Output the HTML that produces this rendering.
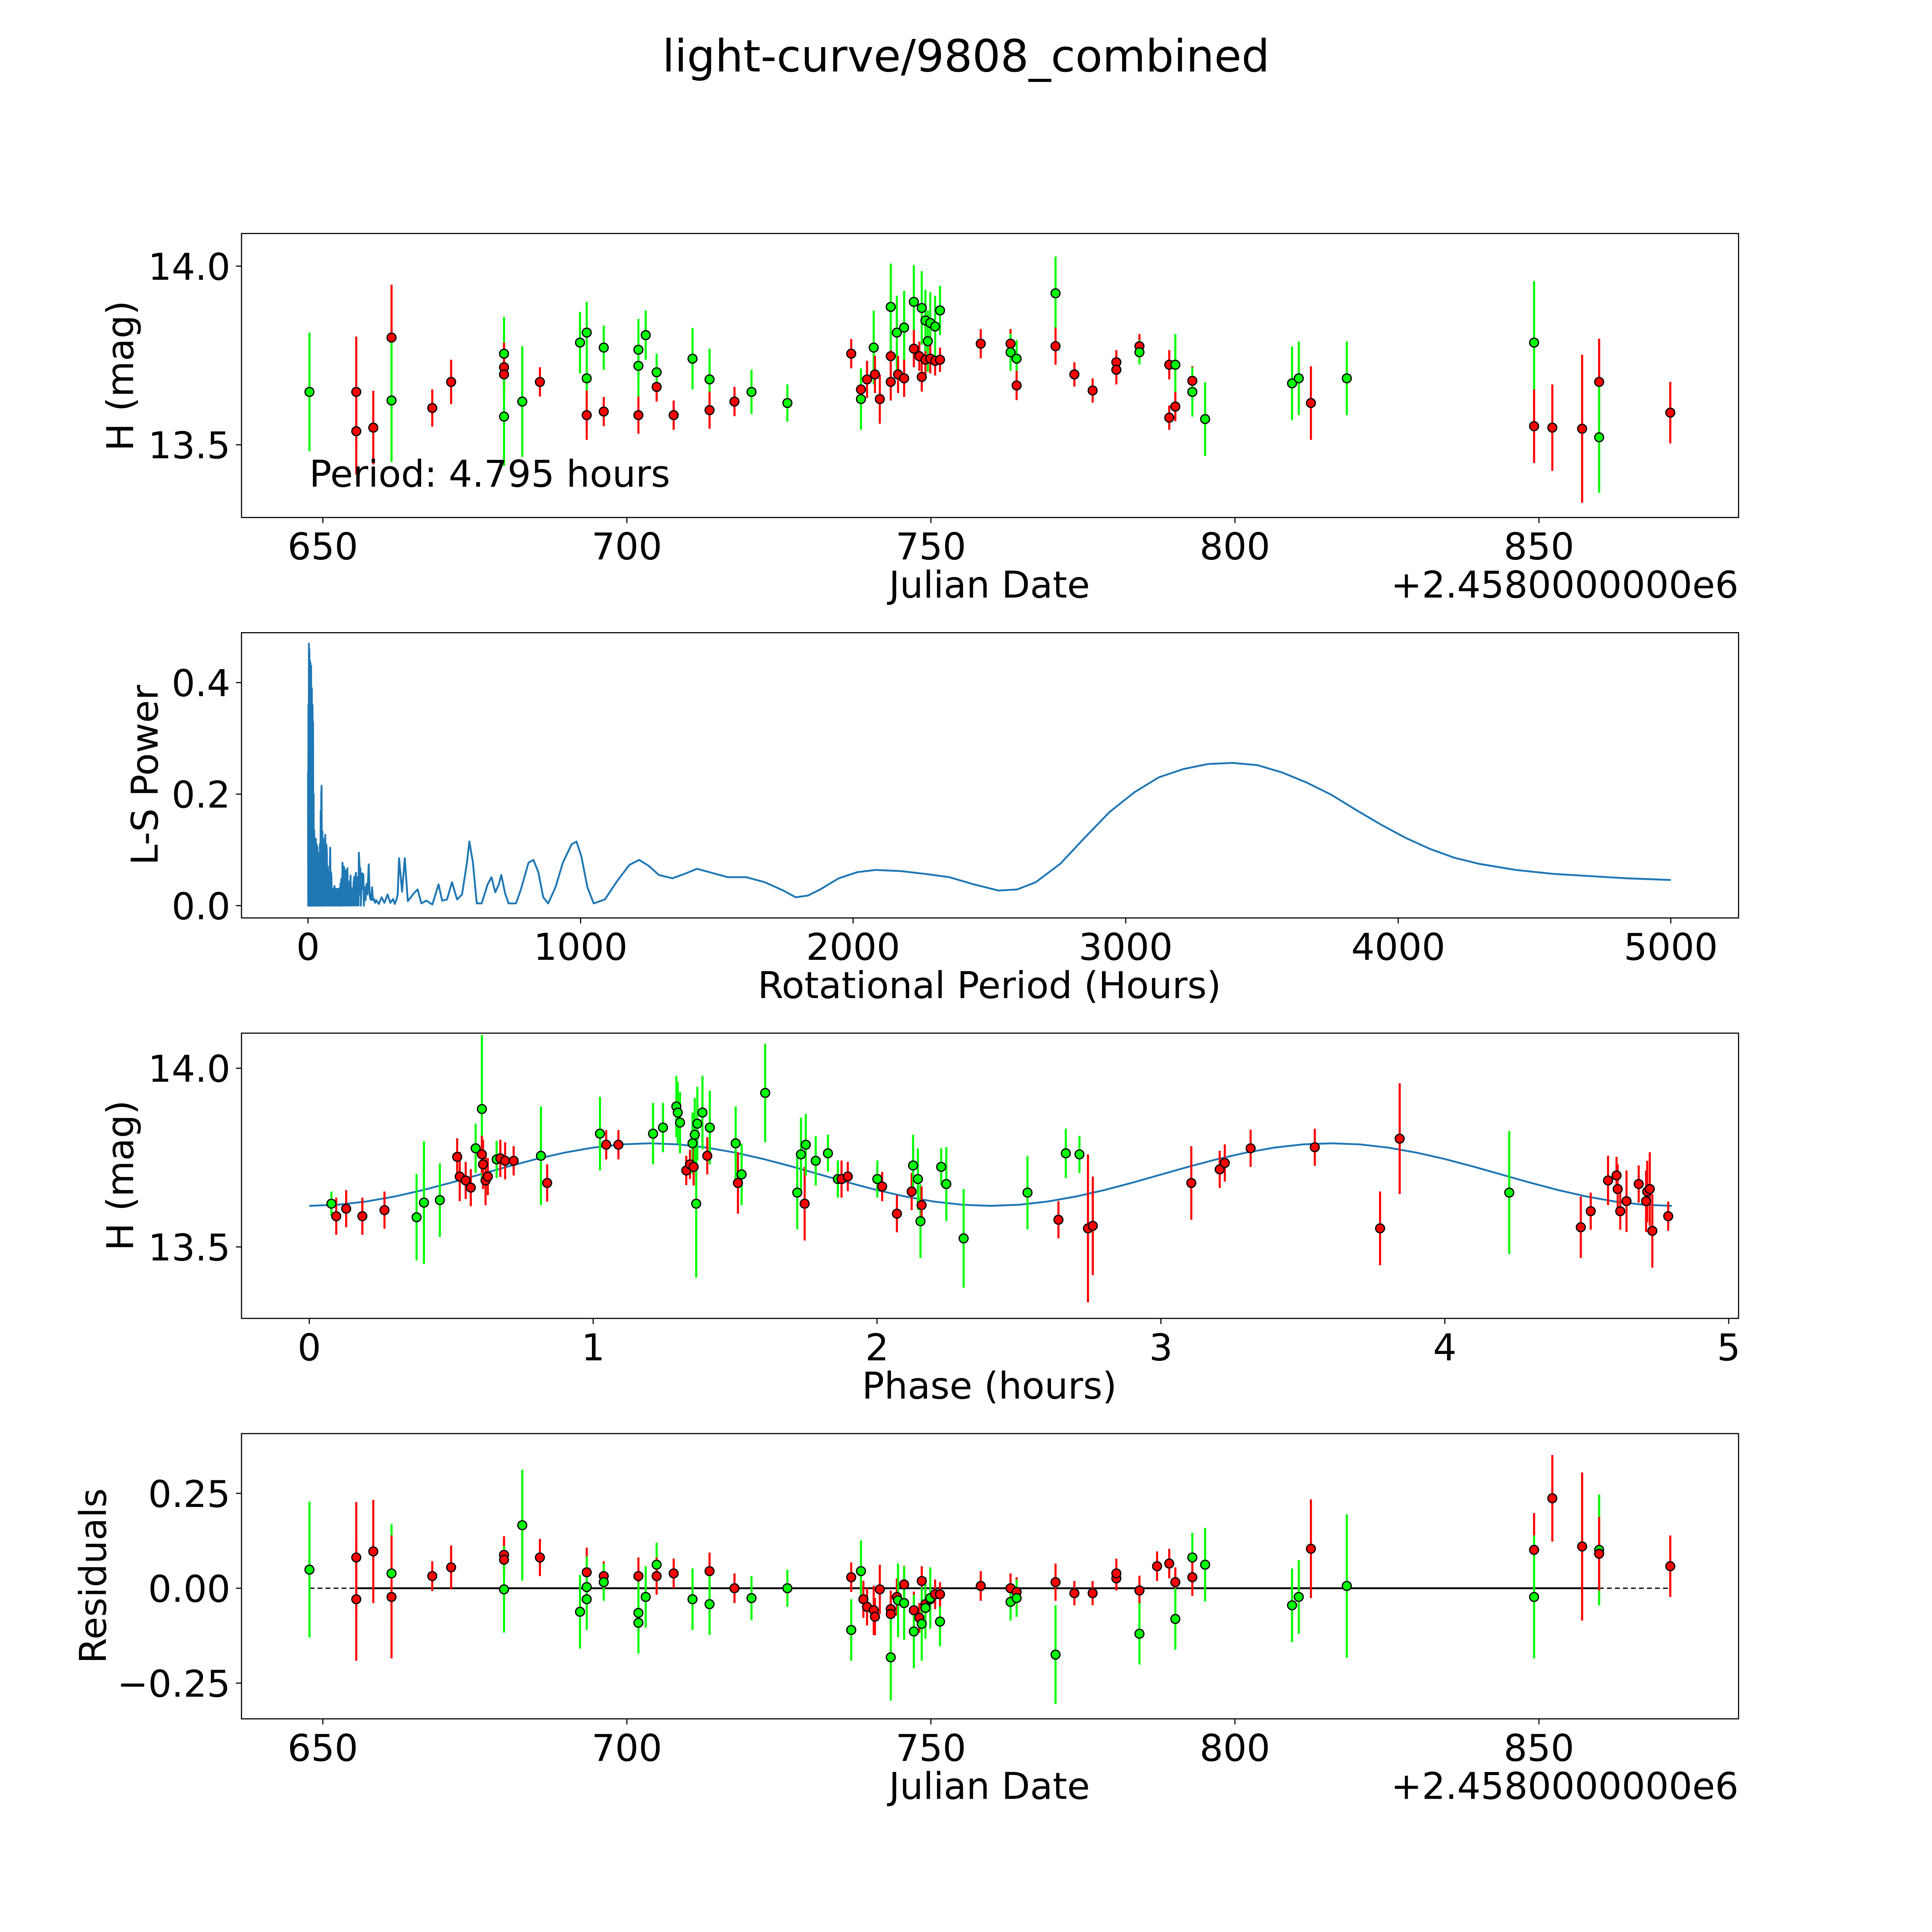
<!DOCTYPE html>
<html><head><meta charset="utf-8"><style>
html,body{margin:0;padding:0;background:#fff;width:100%;height:100%;overflow:hidden;}
svg{display:block;position:fixed;left:0;top:0;width:100vw;height:100vh;font-family:"DejaVu Sans","Liberation Sans",sans-serif;}
</style></head><body>
<svg id="fig" xmlns="http://www.w3.org/2000/svg" viewBox="0 0 1568 1568" preserveAspectRatio="xMinYMin meet">
<rect x="0" y="0" width="1568" height="1568" fill="#fff"/>
<text x="784" y="58" font-size="36" text-anchor="middle">light-curve/9808_combined</text>
</svg>
<script>
// ---- Panel 1: light curve data ----
const lcDate = [647.8,655.5,655.5,658.3,661.3,661.3,668.0,671.1,679.8,679.8,679.8,679.8,682.8,685.7,692.3,693.4,693.4,693.4,696.2,696.2,701.9,701.9,701.9,703.1,704.9,704.9,707.7,710.8,713.6,713.6,717.7,720.5,726.4,736.9,738.5,738.5,739.5,740.6,740.8,741.6,743.4,743.4,743.4,744.4,744.6,745.6,745.6,747.2,747.2,748.1,748.5,748.5,749.1,749.1,749.5,749.9,749.9,750.7,750.7,751.5,751.5,758.2,763.1,763.1,764.1,764.1,770.5,770.5,773.6,776.6,780.5,780.5,784.3,784.3,789.2,789.2,790.2,790.2,793.0,793.0,795.1,809.4,810.5,812.5,818.4,849.2,849.2,852.2,857.1,859.9,859.9,871.6];
const lcMag = [13.648,13.648,13.538,13.548,13.800,13.624,13.603,13.676,13.755,13.717,13.697,13.579,13.621,13.676,13.786,13.814,13.686,13.583,13.772,13.593,13.766,13.721,13.583,13.807,13.662,13.703,13.583,13.741,13.683,13.597,13.621,13.648,13.617,13.755,13.655,13.628,13.683,13.772,13.697,13.628,13.676,13.748,13.886,13.814,13.697,13.828,13.686,13.900,13.769,13.748,13.690,13.883,13.738,13.848,13.790,13.841,13.741,13.735,13.831,13.876,13.738,13.783,13.783,13.759,13.741,13.666,13.924,13.776,13.697,13.652,13.731,13.710,13.776,13.759,13.576,13.724,13.724,13.607,13.679,13.648,13.572,13.672,13.686,13.617,13.686,13.786,13.552,13.548,13.545,13.676,13.521,13.590];
const lcErr = [0.166,0.155,0.121,0.103,0.148,0.172,0.052,0.062,0.103,0.069,0.069,0.138,0.155,0.041,0.086,0.086,0.086,0.069,0.062,0.041,0.086,0.086,0.052,0.069,0.041,0.052,0.041,0.086,0.086,0.052,0.041,0.062,0.052,0.041,0.041,0.086,0.052,0.103,0.052,0.069,0.052,0.086,0.121,0.103,0.052,0.103,0.052,0.103,0.052,0.041,0.041,0.103,0.041,0.086,0.086,0.086,0.041,0.041,0.086,0.069,0.034,0.041,0.041,0.052,0.052,0.041,0.103,0.052,0.034,0.034,0.034,0.041,0.034,0.034,0.034,0.041,0.086,0.041,0.041,0.069,0.103,0.103,0.103,0.103,0.103,0.172,0.103,0.121,0.207,0.121,0.155,0.086];
const lcColor = ['g','r','r','r','r','g','r','r','g','r','r','g','g','r','g','g','g','r','g','r','g','g','r','g','r','g','r','g','g','r','r','g','g','r','r','g','r','g','r','r','r','r','g','g','r','g','r','g','r','r','r','g','r','g','g','g','r','r','g','g','r','r','r','g','g','r','g','r','r','r','r','r','r','g','r','r','g','r','r','g','g','g','g','r','g','g','r','r','r','r','g','r'];

// ---- Panel 2: Lomb-Scargle periodogram ----
const lsPeriod = [0,0.7,1.4,2.1,3.2,4,5,6,6.8,7.8,9,10,11.3,12.5,14,15,16.5,17.5,18.5,19.5,20.5,21.5,22.6,24,25.5,27,28.5,30,31.5,33,34.5,36,37.5,39,40.5,42,43.5,45,46.5,47.5,48.5,49.7,51,52.8,54.5,56,57.4,59,61,63.2,65,67,69,71,72.5,74.5,76,78,79.5,81.3,83,84.5,85.8,87.5,90.3,93,95,97.1,99,101,103,106,108,111,113,115,117,119,120,122,124,126.5,129,131,133,135,138,140,142,144.5,146.5,149,151,153,156,158,160,162.6,165,167,169.4,171,173,176,178,180,183,185,186.5,189,190,192,194,197,199,201,203,205,207,208.7,211,214.6,218,222.7,226,228,231,235,238,241.7,246,250,260,270,280,292,302,312,318,324,329,334,345,355,366,388,402,416,434,456,479,492,510,528,547,565,583,592,605,619,637,659,673,687,700,709,723,736,763,781,809,827,845,863,881,908,935,967,985,1003,1025,1048,1089,1134,1179,1215,1251,1287,1337,1382,1427,1473,1540,1608,1676,1744,1789,1834,1879,1947,2015,2082,2173,2263,2353,2444,2534,2602,2670,2760,2850,2941,3031,3121,3212,3302,3392,3483,3573,3663,3754,3844,3934,4025,4115,4205,4296,4431,4567,4702,4838,5000];
const lsPower = [0.24,0,0.36,0,0.47,0,0.46,0,0.44,0,0.435,0,0.43,0,0.39,0,0.36,0,0.33,0,0.2,0,0.135,0,0.12,0,0.12,0,0.11,0,0.105,0,0.094,0,0.09,0,0.11,0,0.17,0,0.2,0.215,0,0.133,0,0.12,0,0.1,0,0.127,0,0.11,0.097,0,0.07,0,0.06,0,0.05,0.104,0,0.06,0.053,0,0.03,0,0.03,0.035,0,0.03,0,0.03,0,0.03,0,0.031,0,0.04,0,0.048,0,0.077,0,0.07,0.067,0,0.063,0,0.05,0.067,0,0.04,0.043,0,0.054,0,0.03,0.031,0,0.04,0.051,0,0.05,0.059,0,0.04,0.051,0,0.095,0.07,0.02,0.067,0,0.05,0.058,0.03,0.056,0,0.03,0.033,0.01,0.039,0.02,0.074,0.02,0.013,0.01,0.033,0.01,0.012,0.005,0.01,0.003,0.015,0.005,0.02,0.005,0.012,0.003,0.01,0.02,0.085,0.025,0.085,0.008,0.022,0.029,0.004,0.009,0.002,0.038,0.009,0.011,0.042,0.011,0.02,0.077,0.115,0.077,0.004,0.004,0.038,0.051,0.024,0.038,0.055,0.022,0.004,0.004,0.029,0.077,0.082,0.06,0.015,0.004,0.033,0.077,0.11,0.115,0.088,0.033,0.004,0.011,0.044,0.073,0.082,0.071,0.055,0.049,0.057,0.066,0.06,0.051,0.051,0.042,0.027,0.015,0.018,0.029,0.049,0.06,0.064,0.062,0.057,0.051,0.038,0.027,0.029,0.042,0.075,0.122,0.168,0.203,0.23,0.245,0.254,0.256,0.252,0.239,0.221,0.199,0.172,0.146,0.122,0.102,0.086,0.075,0.064,0.057,0.053,0.049,0.046];

// ---- Panel 3: phased light curve ----
const phPhase = [0.078,0.095,0.130,0.187,0.265,0.378,0.404,0.460,0.521,0.530,0.551,0.569,0.586,0.608,0.608,0.612,0.621,0.629,0.660,0.673,0.690,0.720,0.816,0.838,1.024,1.046,1.089,1.211,1.246,1.293,1.298,1.306,1.328,1.341,1.350,1.354,1.358,1.363,1.367,1.385,1.402,1.411,1.502,1.510,1.523,1.606,1.719,1.732,1.745,1.749,1.784,1.827,1.862,1.875,1.897,2.001,2.018,2.070,2.122,2.127,2.144,2.153,2.157,2.226,2.244,2.305,2.530,2.639,2.665,2.713,2.743,2.760,3.107,3.207,3.225,3.316,3.542,3.772,3.841,4.227,4.479,4.514,4.575,4.605,4.609,4.618,4.640,4.683,4.709,4.713,4.722,4.731,4.787];
const phMag = [13.621,13.586,13.607,13.586,13.603,13.583,13.624,13.631,13.752,13.697,13.686,13.666,13.776,13.886,13.759,13.731,13.686,13.697,13.745,13.748,13.741,13.741,13.755,13.679,13.817,13.786,13.786,13.817,13.834,13.893,13.876,13.848,13.714,13.731,13.790,13.724,13.814,13.621,13.845,13.876,13.755,13.834,13.790,13.679,13.703,13.931,13.652,13.759,13.621,13.786,13.741,13.762,13.690,13.690,13.697,13.690,13.669,13.593,13.655,13.728,13.690,13.572,13.617,13.724,13.676,13.524,13.652,13.576,13.762,13.759,13.552,13.559,13.679,13.717,13.735,13.776,13.779,13.552,13.803,13.652,13.555,13.600,13.686,13.700,13.662,13.600,13.628,13.676,13.628,13.655,13.662,13.545,13.586];
const phErr = [0.034,0.052,0.052,0.052,0.052,0.121,0.172,0.103,0.052,0.069,0.052,0.052,0.069,0.207,0.052,0.069,0.069,0.052,0.052,0.052,0.052,0.041,0.138,0.052,0.103,0.041,0.041,0.086,0.069,0.086,0.086,0.086,0.041,0.041,0.086,0.052,0.103,0.207,0.103,0.103,0.052,0.103,0.103,0.086,0.086,0.138,0.103,0.103,0.103,0.086,0.069,0.052,0.052,0.052,0.041,0.052,0.041,0.052,0.052,0.086,0.086,0.103,0.052,0.052,0.103,0.138,0.103,0.052,0.069,0.052,0.207,0.138,0.103,0.052,0.052,0.052,0.052,0.103,0.155,0.172,0.086,0.052,0.069,0.052,0.069,0.052,0.086,0.052,0.086,0.086,0.103,0.103,0.041];
const phColor = ['g','r','r','r','r','g','g','g','r','r','r','r','g','g','r','r','r','r','g','r','r','r','g','r','g','r','r','g','g','g','g','g','r','r','g','r','g','g','g','g','r','g','g','r','g','g','g','g','r','g','g','g','g','r','r','g','r','r','r','g','g','g','r','g','g','g','g','r','g','g','r','r','r','r','r','r','r','r','r','g','r','r','r','r','r','r','r','r','r','r','r','r','r'];
const modelPhaseStep = 0.1;
const modelMag = [13.615,13.618,13.627,13.641,13.659,13.680,13.7025,13.725,13.746,13.764,13.778,13.787,13.79,13.787,13.778,13.764,13.746,13.725,13.7025,13.680,13.659,13.641,13.627,13.618,13.615,13.618,13.627,13.641,13.659,13.680,13.7025,13.725,13.746,13.764,13.778,13.787,13.79,13.787,13.778,13.764,13.746,13.725,13.7025,13.680,13.659,13.641,13.627,13.618,13.615];

// ---- Panel 4: residuals ----
const resDate = [647.8,655.5,655.5,658.3,661.3,661.3,668.0,671.1,679.8,679.8,679.8,682.8,685.7,692.3,693.4,693.4,693.4,696.2,696.2,701.9,701.9,701.9,703.1,704.9,704.9,707.7,710.8,713.6,713.6,717.7,720.5,726.4,736.9,736.9,738.5,738.9,739.5,740.6,740.8,741.6,743.4,743.4,743.4,744.4,744.6,745.6,745.6,747.2,747.2,748.1,748.5,748.5,749.1,749.1,749.9,749.9,750.7,751.5,751.5,758.2,763.1,763.1,764.1,764.1,770.5,770.5,773.6,776.6,780.5,780.5,784.3,784.3,787.2,789.2,790.2,790.2,793.0,793.0,795.1,809.4,810.5,812.5,818.4,849.2,849.2,852.2,857.1,859.9,859.9,871.6];
const resVal = [0.049,0.081,-0.029,0.097,0.039,-0.023,0.032,0.055,0.088,0.075,-0.003,0.166,0.081,-0.062,0.042,0.003,-0.029,0.032,0.016,0.032,-0.065,-0.091,-0.023,0.062,0.032,0.039,-0.029,0.045,-0.042,0.0,-0.026,0.0,0.029,-0.110,0.045,-0.029,-0.049,-0.058,-0.075,-0.003,-0.055,-0.068,-0.182,-0.023,-0.032,0.010,-0.039,-0.058,-0.114,-0.078,0.019,-0.094,-0.042,-0.052,-0.029,-0.026,-0.016,-0.088,-0.016,0.006,0.0,-0.036,-0.010,-0.026,0.016,-0.175,-0.013,-0.013,0.026,0.039,-0.006,-0.120,0.058,0.065,0.016,-0.081,0.081,0.029,0.062,-0.045,-0.023,0.104,0.006,0.101,-0.023,0.237,0.110,0.101,0.091,0.058];
const resErr = [0.179,0.146,0.162,0.136,0.130,0.162,0.039,0.058,0.049,0.049,0.114,0.146,0.049,0.097,0.065,0.081,0.081,0.039,0.049,0.049,0.081,0.081,0.081,0.058,0.049,0.039,0.081,0.049,0.081,0.039,0.058,0.049,0.039,0.081,0.081,0.049,0.049,0.065,0.049,0.065,0.049,0.049,0.114,0.049,0.097,0.049,0.097,0.049,0.097,0.039,0.039,0.097,0.039,0.081,0.039,0.081,0.039,0.065,0.032,0.039,0.039,0.049,0.039,0.049,0.049,0.130,0.032,0.032,0.032,0.039,0.039,0.081,0.039,0.039,0.039,0.081,0.065,0.049,0.097,0.097,0.097,0.130,0.189,0.097,0.162,0.114,0.195,0.146,0.097,0.081];
const resColor = ['g','r','r','r','g','r','r','r','r','r','g','g','r','g','r','g','g','r','g','r','g','g','g','g','r','r','g','r','g','r','g','g','r','g','g','r','r','r','r','r','r','r','g','r','g','r','g','r','g','r','r','g','r','g','r','g','r','g','r','r','r','g','r','g','r','g','r','r','r','r','r','g','r','r','r','g','g','r','g','g','g','r','g','r','g','r','r','g','r','r'];

// ---- axis tick arrays ----
const dateTicks = [650,700,750,800,850];
const magTicks = [14.0,13.5];
const magTickLabels = ['14.0','13.5'];
const lsXTicks = [0,1000,2000,3000,4000,5000];
const lsYTicks = [0,0.2,0.4];
const lsYTickLabels = ['0.0','0.2','0.4'];
const phTicks = [0,1,2,3,4,5];
const resTicks = [0.25,0,-0.25];
const resTickLabels = ['0.25','0.00','\u22120.25'];

const NS = 'http://www.w3.org/2000/svg';
const svg = document.getElementById('fig');
function mk(tag, attrs, parent) {
  const e = document.createElementNS(NS, tag);
  for (const k in attrs) e.setAttribute(k, attrs[k]);
  (parent || svg).appendChild(e);
  return e;
}
function lin(d0, d1, r0, r1) { return v => r0 + (v - d0) * (r1 - r0) / (d1 - d0); }

const L = 196, R = 1411;
const COL = {r:'#ff0000', g:'#00ff00'};
const TICK_FS = 30, LABEL_FS = 30;

function frame(g, top, bot, name) {
  const r = mk('rect', {x:L, y:top, width:R-L, height:bot-top, fill:'none', stroke:'#000', 'stroke-width':0.9}, g);
  
  
}
function xTicks(g, ticks, labels, sx, bot, name) {
  ticks.forEach((t, i) => {
    const x = sx(t);
    const l = mk('line', {x1:x, x2:x, y1:bot, y2:bot+4.5, stroke:'#000', 'stroke-width':0.9}, g);
    
    
    const tx = mk('text', {x:x, y:bot+34, 'font-size':TICK_FS, 'text-anchor':'middle'}, g);
    tx.textContent = labels[i];
    
    
  });
}
function yTicks(g, ticks, labels, sy, name) {
  ticks.forEach((t, i) => {
    const y = sy(t);
    const l = mk('line', {x1:L-4.5, x2:L, y1:y, y2:y, stroke:'#000', 'stroke-width':0.9}, g);
    
    
    const tx = mk('text', {x:L-9, y:y+11, 'font-size':TICK_FS, 'text-anchor':'end'}, g);
    tx.textContent = labels[i];
    
    
  });
}
function label(g, txt, x, y, rot, name) {
  const t = mk('text', {x:x, y:y, 'font-size':LABEL_FS, 'text-anchor':'middle'}, g);
  if (rot) t.setAttribute('transform', 'rotate(-90 ' + x + ' ' + y + ')');
  t.textContent = txt;
  
  
}
function errPoints(g, xs, ys, es, cs, sx, sy, name) {
  const eg = mk('g', {}, g);
  
  
  xs.forEach((v, i) => {
    const x = sx(v);
    const b = mk('line', {x1:x, x2:x, y1:sy(ys[i]-es[i]), y2:sy(ys[i]+es[i]), stroke:COL[cs[i]], 'stroke-width':1.7}, eg);
    
    
  });
  const mg = mk('g', {}, g);
  
  
  xs.forEach((v, i) => {
    const c = mk('circle', {cx:sx(v), cy:sy(ys[i]), r:3.6, fill:COL[cs[i]], stroke:'#000', 'stroke-width':1}, mg);
    
    
  });
}

// Panel 1
{
  const T = 189.5, B = 420;
  const g = mk('g', {});
  
  
  const sx = lin(650, 850, 262, 1249);
  const sy = lin(14.0, 13.5, 216, 361);
  const clip = mk('clipPath', {id:'c1'}, g); mk('rect', {x:L, y:T, width:R-L, height:B-T}, clip);
  const inner = mk('g', {'clip-path':'url(#c1)'}, g);
  errPoints(inner, lcDate, lcMag, lcErr, lcColor, sx, sy, 'light-curve');
  frame(g, T, B, 'light-curve');
  xTicks(g, dateTicks, dateTicks.map(String), sx, B, 'light-curve');
  yTicks(g, magTicks, magTickLabels, sy, 'light-curve');
  label(g, 'Julian Date', 803, 485, false, 'light-curve-x-axis-title');
  label(g, 'H (mag)', 108, 305, true, 'light-curve-y-axis-title');
  const off = mk('text', {x:R, y:485, 'font-size':LABEL_FS, 'text-anchor':'end'}, g);
  off.textContent = '+2.4580000000e6';
  
  
  const per = mk('text', {x:251, y:395, 'font-size':LABEL_FS}, g);
  per.textContent = 'Period: 4.795 hours';
  
  
}
// Panel 2
{
  const T = 513.5, B = 745;
  const g = mk('g', {});
  
  
  const sx = lin(0, 5000, 250, 1356);
  const sy = lin(0, 0.4, 735, 554);
  const d = lsPeriod.map((p, i) => (i ? 'L' : 'M') + sx(p).toFixed(2) + ' ' + sy(lsPower[i]).toFixed(2)).join(' ');
  const path = mk('path', {d:d, fill:'none', stroke:'#1f77b4', 'stroke-width':1.5, 'stroke-linejoin':'round'}, g);
  
  
  frame(g, T, B, 'periodogram');
  xTicks(g, lsXTicks, lsXTicks.map(String), sx, B, 'periodogram');
  yTicks(g, lsYTicks, lsYTickLabels, sy, 'periodogram');
  label(g, 'Rotational Period (Hours)', 803, 810, false, 'periodogram-x-axis-title');
  label(g, 'L-S Power', 128, 629, true, 'periodogram-y-axis-title');
}
// Panel 3
{
  const T = 838.5, B = 1070;
  const g = mk('g', {});
  
  
  const sx = lin(0, 5, 251, 1403);
  const sy = lin(14.0, 13.5, 867, 1012);
  const clip = mk('clipPath', {id:'c3'}, g); mk('rect', {x:L, y:T, width:R-L, height:B-T}, clip);
  const inner = mk('g', {'clip-path':'url(#c3)'}, g);
  const d = modelMag.map((m, i) => (i ? 'L' : 'M') + sx(i*modelPhaseStep).toFixed(2) + ' ' + sy(m).toFixed(2)).join(' ');
  const path = mk('path', {d:d, fill:'none', stroke:'#1f77b4', 'stroke-width':1.5}, inner);
  
  
  errPoints(inner, phPhase, phMag, phErr, phColor, sx, sy, 'phased');
  frame(g, T, B, 'phased');
  xTicks(g, phTicks, phTicks.map(String), sx, B, 'phased');
  yTicks(g, magTicks, magTickLabels, sy, 'phased');
  label(g, 'Phase (hours)', 803, 1135, false, 'phased-x-axis-title');
  label(g, 'H (mag)', 108, 954, true, 'phased-y-axis-title');
}
// Panel 4
{
  const T = 1163.5, B = 1395;
  const g = mk('g', {});
  
  
  const sx = lin(650, 850, 262, 1249);
  const sy = lin(0.25, -0.25, 1212, 1366);
  const dl = mk('line', {x1:sx(647.8), x2:sx(871.6), y1:sy(0), y2:sy(0), stroke:'#000', 'stroke-width':1, 'stroke-dasharray':'4 2.5'}, g);
  
  
  const sl = mk('line', {x1:sx(655.5), x2:sx(859.9), y1:sy(0), y2:sy(0), stroke:'#000', 'stroke-width':1.5}, g);
  
  
  errPoints(g, resDate, resVal, resErr, resColor, sx, sy, 'residuals');
  frame(g, T, B, 'residuals');
  xTicks(g, dateTicks, dateTicks.map(String), sx, B, 'residuals');
  yTicks(g, resTicks, resTickLabels, sy, 'residuals');
  label(g, 'Julian Date', 803, 1460, false, 'residuals-x-axis-title');
  label(g, 'Residuals', 86, 1279, true, 'residuals-y-axis-title');
  const off = mk('text', {x:R, y:1460, 'font-size':LABEL_FS, 'text-anchor':'end'}, g);
  off.textContent = '+2.4580000000e6';
  
  
}
</script>
</body></html>
